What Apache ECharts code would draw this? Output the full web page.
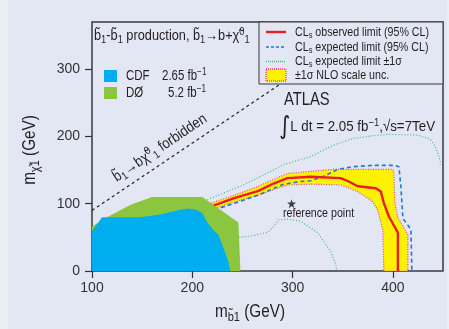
<!DOCTYPE html>
<html><head><meta charset="utf-8">
<script src="https://cdn.jsdelivr.net/npm/echarts@6/dist/echarts.min.js"></script>
<style>html,body{margin:0;padding:0;background:#e3e6f3;}#c{width:449px;height:329px;}</style>
</head><body><div id="c"></div>
<script>
// ---- data (GeV) ----
const xTicks = [100, 200, 300, 400];
const yTicks = [0, 100, 200, 300];
const cdfRegion = [[100,0],[100,59],[110,80],[148,80],[168,84],[188,91],[197,93],[204,91],[210,86],[215,72],[221,61],[226,54],[231,35],[236,14],[238,0]];
const d0Region = [[100,0],[100,66],[115,80],[138,98],[160,110],[210,110],[246,72],[248,0]];
const observed = [[219,96],[241,108],[266,119],[281,130],[295,138],[318,140],[348,138],[356,133],[365,126],[383,123],[388,118],[391,101],[396,81],[405,57],[405,0]];
const expected = [[222,91],[243,101],[266,113],[291,129],[308,133],[318,134],[330,140],[345,151],[360,155],[380,157],[401,157],[406,155],[408,126],[410,78],[418,62],[419,0]];
const expPlus1s = [[215,106],[230,115],[251,128],[270,142],[291,158],[318,170],[341,187],[361,197],[380,201],[395,203],[425,202],[437,196],[442,186],[446,170],[448,158]];
const expMinus1s = [[247,50],[262,53],[276,58],[281,66],[286,76],[295,77],[308,74],[325,57],[338,29],[343,10],[344,0]];
const nloUpper = [[219,101],[241,112],[266,126],[295,145],[318,148],[341,151],[400,151],[401,145],[402,101],[405,79],[415,54],[415,0]];
const nloLower = [[219,91],[241,102],[266,113],[295,128],[318,129],[348,128],[365,118],[380,103],[385,90],[390,61],[391,0]];
const forbiddenLine = [[100,90],[290,280]];
const referencePoint = [[299,100]];

const nloBand = nloUpper.concat(nloLower.slice().reverse());
const NF = "'Liberation Sans','Arial',sans-serif";
const TF = "'Liberation Sans','Arial',sans-serif";
const C = '#231f20';
const SX = 0.82;

function polySeries(name, pts, style, z){
  return {type:'custom', name:name, coordinateSystem:'cartesian2d', data:[pts[0]], z:z, silent:true, clip:true,
    renderItem:function(params, api){
      if (params.dataIndex !== 0) return null;
      return {type:'polygon', shape:{points: pts.map(p => api.coord(p))}, style: style};
    }};
}
function lineSeries(name, pts, color, width, type, z){
  return {type:'line', name:name, data:pts, showSymbol:false, silent:true, z:z, animation:false,
    lineStyle:{color:color, width:width, type:type}};
}
function rich(fs){
  return {
    t:{fontSize:fs, fontFamily:NF, fill:C},
    s:{fontSize:Math.round(fs*0.72), fontFamily:NF, fill:C, padding:[Math.round(fs*0.55),0,0,0]},
    u:{fontSize:Math.round(fs*0.72), fontFamily:NF, fill:C, padding:[0,0,Math.round(fs*0.6),0]},
    big:{fontSize:Math.round(fs*1.6), fontFamily:"'DejaVu Sans',sans-serif", fill:C}
  };
}
function txt(x, y, text, fs, opts){
  opts = opts || {};
  return {type:'text', x:x, y:y, rotation:opts.rot||0, scaleX:(opts.sx||SX), z:100,
    style:{text:text, fill:C, fontSize:fs, fontFamily:NF, rich:rich(fs),
      align:opts.align||'left', textAlign:opts.align||'left',
      verticalAlign:'middle', textVerticalAlign:'middle'}};
}
const bt = 'b\u0303';
const chi = '\u03c7\u0303';

const chart = echarts.init(document.getElementById('c'), null, {renderer:'canvas'});
chart.setOption({
  backgroundColor:'#e3e6f3',
  animation:false,
  grid:{left:92, right:6, top:22, bottom:58, show:true, borderColor:'#3a3a3a', borderWidth:1.5, backgroundColor:'transparent'},
  xAxis:{type:'value', min:100, max:450, interval:100,
    axisLine:{show:false}, splitLine:{show:false},
    axisTick:{show:true, inside:false, length:7, customValues:xTicks, lineStyle:{color:'#333', width:1.2}},
    axisLabel:{customValues:xTicks, fontSize:14, fontFamily:TF, color:'#333', margin:10}},
  yAxis:{type:'value', min:0, max:370, interval:100,
    axisLine:{show:false}, splitLine:{show:false},
    axisTick:{show:true, inside:false, length:7, customValues:yTicks, lineStyle:{color:'#333', width:1.2}},
    axisLabel:{customValues:yTicks, fontSize:14, fontFamily:TF, color:'#333', margin:12}},
  series:[
    polySeries('NLO band', nloBand, {fill:'#fff200', stroke:'#ee3a9a', lineWidth:1.2, lineDash:[1,1.5]}, 2),
    lineSeries('exp -1s', expMinus1s, '#3dbb7d', 1.2, [1,2], 3),
    lineSeries('exp +1s', expPlus1s, '#3dbb7d', 1.2, [1,2], 3),
    lineSeries('expected', expected, '#1f78d1', 1.6, [4,3], 4),
    lineSeries('observed', observed, '#ed1c24', 2.4, 'solid', 5),
    lineSeries('forbidden', forbiddenLine, '#222', 1.2, [3,3], 4),
    polySeries('D0', d0Region, {fill:'#8cc63f'}, 6),
    polySeries('CDF', cdfRegion, {fill:'#00aeef'}, 7),
    {type:'scatter', name:'reference point', data:referencePoint, z:8, silent:true,
     symbol:'path://M50,0 L61.8,35.4 L100,35.4 L69.1,57.3 L80.9,93.3 L50,71.4 L19.1,93.3 L30.9,57.3 L0,35.4 L38.2,35.4 Z',
     symbolSize:9, itemStyle:{color:'#111'}}
  ],
  graphic:[
    {type:'rect', shape:{x:0, y:0, width:8, height:329}, style:{fill:'#eceef6'}, z:-10, silent:true},
    {type:'rect', shape:{x:447, y:0, width:2, height:329}, style:{fill:'#eceef6'}, z:-10, silent:true},
    // title
    txt(94, 36, '{t|'+bt+'}{s|1}{t|-'+bt+'}{s|1}{t| production, '+bt+'}{s|1}{t|\u2192b+'+chi+'}{u|0}{s|1}', 15, {sx:0.85}),
    // CDF / D0 legend
    {type:'rect', shape:{x:104, y:70, width:13, height:12}, style:{fill:'#00aeef'}, z:100},
    {type:'rect', shape:{x:104, y:87, width:13, height:12}, style:{fill:'#8cc63f'}, z:100},
    txt(126, 76, '{t|CDF}', 14),
    txt(162, 76, '{t|2.65 fb}{u|\u22121}', 14),
    txt(126, 93, '{t|D\u00d8}', 14),
    txt(168, 93, '{t|5.2 fb}{u|\u22121}', 14),
    // right legend box
    {type:'rect', shape:{x:259, y:22, width:184, height:62}, style:{fill:'#e3e6f3', stroke:'#3a3a3a', lineWidth:1}, z:90},
    {type:'line', shape:{x1:266, y1:32, x2:286, y2:32}, style:{stroke:'#ed1c24', lineWidth:2.4}, z:100},
    {type:'line', shape:{x1:266, y1:47, x2:286, y2:47}, style:{stroke:'#1f78d1', lineWidth:1.6, lineDash:[3,2]}, z:100},
    {type:'line', shape:{x1:266, y1:61.5, x2:286, y2:61.5}, style:{stroke:'#3dbb7d', lineWidth:1.4, lineDash:[1,1]}, z:100},
    {type:'rect', shape:{x:266, y:69, width:20, height:12}, style:{fill:'#fff200', stroke:'#ee3a9a', lineWidth:1.3, lineDash:[1,1]}, z:100},
    txt(295, 32, '{t|CL}{s|s}{t| observed limit (95% CL)}', 13),
    txt(295, 47, '{t|CL}{s|s}{t| expected limit (95% CL)}', 13),
    txt(295, 61, '{t|CL}{s|s}{t| expected limit \u00b11\u03c3}', 13),
    txt(295, 75, '{t|\u00b11\u03c3 NLO scale unc.}', 13),
    // ATLAS
    txt(284, 100, '{t|ATLAS}', 18),
    txt(279, 127, '{big|\u222b}{t|L dt = 2.05 fb}{u|\u22121}{t|,\u221as=7TeV}', 15.5, {sx:0.86}),
    txt(283, 213, '{t|reference point}', 13),
    // forbidden label
    txt(160, 148, '{t|'+bt+'}{s|1}{t|\u2192b'+chi+'}{u|0}{s|1}{t| forbidden}', 15, {align:'center', rot:0.593, sx:0.88}),
    // axis names
    txt(250, 312, '{t|m}{s|'+bt+'1}{t| (GeV)}', 18, {align:'center', sx:0.85}),
    txt(30, 150, '{t|m}{s|'+chi+'1}{t| (GeV)}', 18, {align:'center', rot:Math.PI/2, sx:0.85})
  ]
});
</script></body></html>
